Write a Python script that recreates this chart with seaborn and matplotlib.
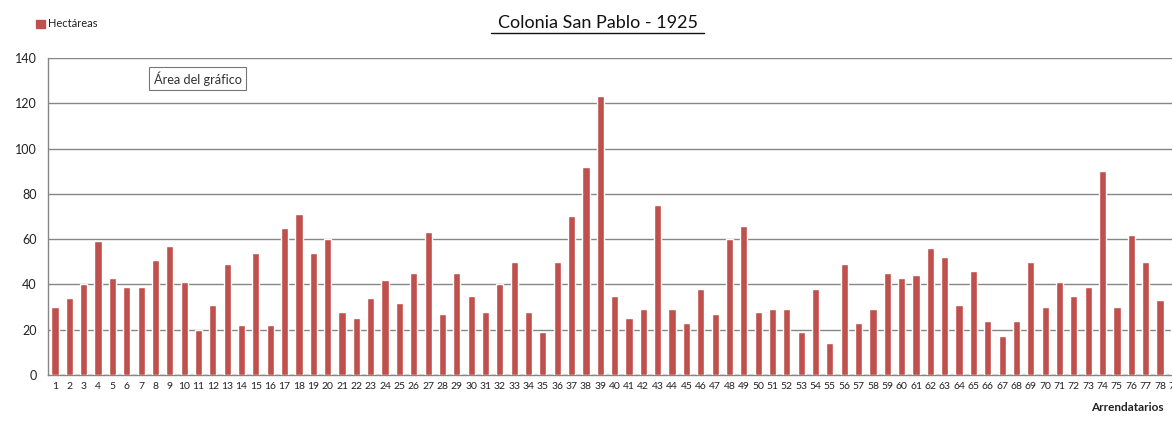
#!/usr/bin/env python3
# Colonia San Pablo - 1925: hectareas por arrendatario

import pandas as pd
import matplotlib.pyplot as plt
import seaborn as sns
from matplotlib.ticker import MultipleLocator, FixedLocator
from matplotlib.patches import Rectangle

# Datos
arrendatarios = list(range(1, 80))
hectareas = [
    30, 34, 40, 59, 43, 39, 39, 51, 57, 41,
    20, 31, 49, 22, 54, 22, 65, 71, 54, 60,
    28, 25, 34, 42, 32, 45, 63, 27, 45, 35,
    28, 40, 50, 28, 19, 50, 70, 92, 123, 35,
    25, 29, 75, 29, 23, 38, 27, 60, 66, 28,
    29, 29, 19, 38, 14, 49, 23, 29, 45, 43,
    44, 56, 52, 31, 46, 24, 17, 24, 50, 30,
    41, 35, 39, 90, 30, 62, 50, 33, 37,
]

color_barra = "#C0504D"
color_grid = "#868686"

df = pd.DataFrame({"Arrendatario": [str(a) for a in arrendatarios], "Hectareas": hectareas})

sns.set_style("white")
plt.rcParams["font.family"] = ["Lato", "DejaVu Sans"]

fig = plt.figure(figsize=(11.72, 4.21), dpi=100)
ax = fig.add_axes([0.0408, 0.1093, 0.9673, 0.753])

sns.barplot(data=df, x="Arrendatario", y="Hectareas", color=color_barra,
            saturation=1, width=0.5, ax=ax, zorder=3)

# Ejes
ax.set_ylim(0, 140)
ax.set_xlim(-0.5, len(arrendatarios) - 0.5)
ax.yaxis.set_major_locator(MultipleLocator(20))
ax.grid(axis="y", color=color_grid, linewidth=1, zorder=0)
ax.set_axisbelow(True)
for s in ["top", "right"]:
    ax.spines[s].set_visible(False)
for s in ["left", "bottom"]:
    ax.spines[s].set_color(color_grid)
    ax.spines[s].set_linewidth(1)

ax.xaxis.set_minor_locator(FixedLocator([i - 0.5 for i in range(len(arrendatarios) + 1)]))
ax.tick_params(axis="x", which="major", length=0, labelsize=7.5, pad=5, colors="#222222")
ax.tick_params(axis="x", which="minor", length=4, color=color_grid, direction="out")
ax.tick_params(axis="y", which="major", length=4, color=color_grid, direction="out",
               labelsize=9, labelcolor="#222222", pad=4)
ax.set_xlabel("")
ax.set_ylabel("")

# Titulo subrayado
fig.text(0.51, 0.945, "Colonia San Pablo - 1925", ha="center", va="center",
         fontsize=13, color="#111111")
fig.add_artist(plt.Line2D([0.419, 0.601], [0.922, 0.922], color="#111111", linewidth=1))

# Leyenda
fig.add_artist(Rectangle((0.031, 0.933), 0.0075, 0.02, color=color_barra,
                         transform=fig.transFigure))
fig.text(0.041, 0.943, "Hectáreas", ha="left", va="center", fontsize=8, color="#222222")

# Etiqueta eje x
fig.text(0.993, 0.018, "Arrendatarios", ha="right", va="bottom", fontsize=8.5,
         fontweight="bold", color="#222222")

# Cuadro de informacion "Area del grafico"
fig.text(0.131, 0.813, "Área del gráfico", ha="left", va="center", fontsize=9.2, color="#333333",
         bbox=dict(boxstyle="square,pad=0.35", facecolor="white", edgecolor="#777777",
                   linewidth=0.8))

plt.savefig("out.png", dpi=100)
plt.close()
